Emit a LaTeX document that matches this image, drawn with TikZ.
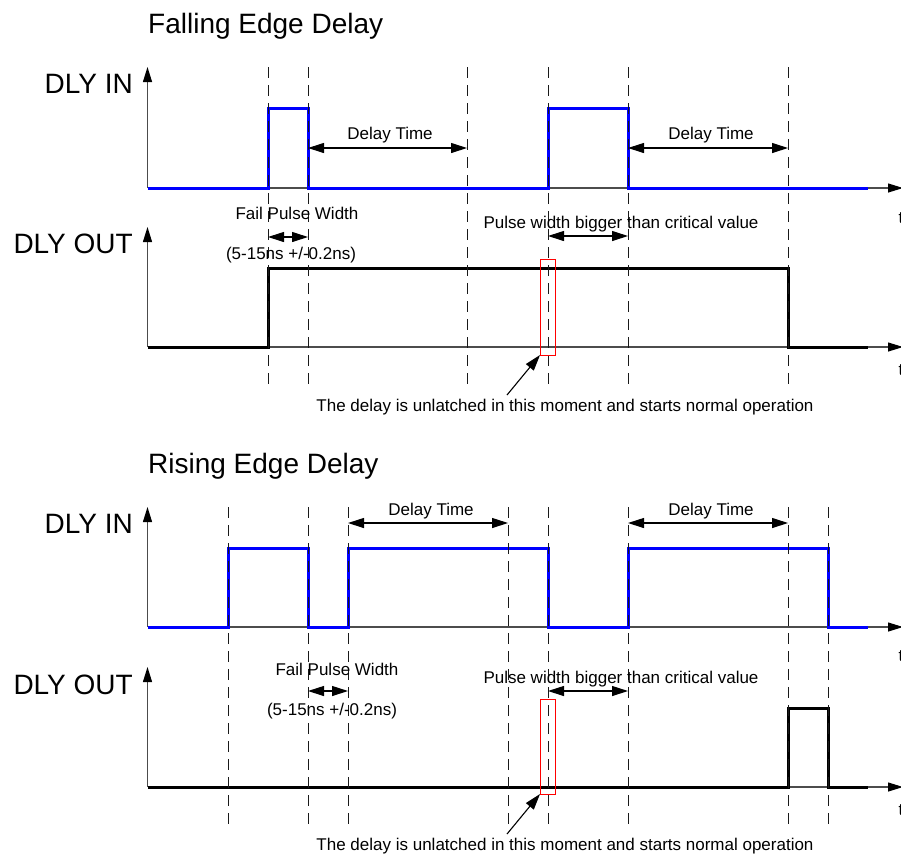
\documentclass[tikz,border=0pt]{standalone}
\usepackage{fontspec}
\setmainfont{Liberation Sans}
\usetikzlibrary{arrows.meta}
\definecolor{sigblue}{RGB}{0,0,255}
\begin{document}
\begin{tikzpicture}[x=1pt,y=-1pt,
  axis/.style={draw=black!70, line width=1.1pt, -{Triangle[length=15pt,width=9pt,black]}},
  gridline/.style={draw=black!90, line width=1.1pt, dash pattern=on 11pt off 7pt},
  sigin/.style={draw=sigblue, line width=3pt},
  sigout/.style={draw=black, line width=3pt},
  dim/.style={draw=black, line width=1.1pt, {Triangle[length=16pt,width=10pt]}-{Triangle[length=16pt,width=10pt]}},
  lbl/.style={font=\fontsize{17}{20}\selectfont, inner sep=0pt},
  big/.style={font=\fontsize{28}{32}\selectfont, inner sep=0pt},
  redbox/.style={draw=red, line width=1.3pt},
  note/.style={draw=black, line width=1.1pt, -{Triangle[length=16pt,width=10pt]}}
]
\useasboundingbox (0,0) rectangle (901,857);

% ================= Falling Edge Delay =================
\node[big, anchor=base west] (title1) at (148,33) {Falling Edge Delay};
\node[big, anchor=base east] (in1) at (133,93) {DLY IN};
\node[big, anchor=base east] (out1) at (133,253) {DLY OUT};

\coordinate (oi1) at (147.5,188);
\coordinate (yi1) at (147.5,67);
\coordinate (xi1) at (903,188);
\coordinate (oo1) at (147.5,347);
\coordinate (yo1) at (147.5,227);
\coordinate (xo1) at (903,347);
\draw[axis] (oi1) -- (yi1);
\draw[axis] (oi1) -- (xi1);
\draw[axis] (oo1) -- (yo1);
\draw[axis] (oo1) -- (xo1);

\draw[sigin] (oi1) -- (268,188) -- (268,108) -- (308,108) -- (308,188) -- (548,188)
  -- (548,108) -- (628,108) -- (628,188) -- (868,188);
\draw[sigout] (oo1) -- (268,347) -- (268,268) -- (788,268) -- (788,347) -- (868,347);

\foreach \x in {268,308,467,548,628,788}
  \draw[gridline] (\x+0.5,67) -- (\x+0.5,387);

\node[lbl, anchor=base] (dt1a) at (390,139) {Delay Time};
\node[lbl, anchor=base] (dt1b) at (711,139) {Delay Time};
\coordinate (d1a) at (308,148); \coordinate (d1b) at (467,148);
\coordinate (d1c) at (628,148); \coordinate (d1d) at (788,148);
\draw[dim] (d1a) -- (d1b);
\draw[dim] (d1c) -- (d1d);

\node[lbl, anchor=base] (fp1) at (297,219) {Fail Pulse Width};
\node[lbl, anchor=base] (fr1) at (291,259) {(5-15ns +/-0.2ns)};
\coordinate (f1a) at (268,237); \coordinate (f1b) at (308,237);
\draw[dim] (f1a) -- (f1b);

\node[lbl, anchor=base] (pw1) at (621,228) {Pulse width bigger than critical value};
\coordinate (p1a) at (548,236); \coordinate (p1b) at (628,236);
\draw[dim] (p1a) -- (p1b);

\coordinate (r1a) at (540.5,259.5); \coordinate (r1b) at (555.5,355.5);
\coordinate (n1s) at (507,395); \coordinate (n1e) at (540,355);
\draw[note] (n1s) -- (n1e);
\node[lbl, anchor=base] (nt1) at (565,411) {The delay is unlatched in this moment and starts normal operation};

\node[lbl, anchor=base west] (ti1) at (898.5,223) {t};
\node[lbl, anchor=base west] (to1) at (898.5,375) {t};

% ================= Rising Edge Delay =================
\node[big, anchor=base west] (title2) at (148,473) {Rising Edge Delay};
\node[big, anchor=base east] (in2) at (133,533) {DLY IN};
\node[big, anchor=base east] (out2) at (133,694) {DLY OUT};

\coordinate (oi2) at (147.5,627);
\coordinate (yi2) at (147.5,507);
\coordinate (xi2) at (903,627);
\coordinate (oo2) at (147.5,787);
\coordinate (yo2) at (147.5,667);
\coordinate (xo2) at (903,787);
\draw[axis] (oi2) -- (yi2);
\draw[axis] (oi2) -- (xi2);
\draw[axis] (oo2) -- (yo2);
\draw[axis] (oo2) -- (xo2);

\draw[sigin] (oi2) -- (228,627) -- (228,548) -- (308,548) -- (308,627) -- (348,627)
  -- (348,548) -- (548,548) -- (548,627) -- (628,627) -- (628,548) -- (828,548)
  -- (828,627) -- (868,627);
\draw[sigout] (oo2) -- (788,787) -- (788,708) -- (828,708) -- (828,787) -- (868,787);

\foreach \x in {228,308,348,508,548,628,788,828}
  \draw[gridline] (\x+0.5,507) -- (\x+0.5,827);

\node[lbl, anchor=base] (dt2a) at (431,515) {Delay Time};
\node[lbl, anchor=base] (dt2b) at (711,515) {Delay Time};
\coordinate (d2a) at (348,523); \coordinate (d2b) at (508,523);
\coordinate (d2c) at (628,523); \coordinate (d2d) at (788,523);
\draw[dim] (d2a) -- (d2b);
\draw[dim] (d2c) -- (d2d);

\node[lbl, anchor=base] (fp2) at (337,675) {Fail Pulse Width};
\node[lbl, anchor=base] (fr2) at (332,715) {(5-15ns +/-0.2ns)};
\coordinate (f2a) at (308,691); \coordinate (f2b) at (348,691);
\draw[dim] (f2a) -- (f2b);

\node[lbl, anchor=base] (pw2) at (621,683) {Pulse width bigger than critical value};
\coordinate (p2a) at (548,691); \coordinate (p2b) at (628,691);
\draw[dim] (p2a) -- (p2b);

\coordinate (r2a) at (540.5,699.5); \coordinate (r2b) at (555.5,794.5);
\coordinate (n2s) at (507,834); \coordinate (n2e) at (540,794);
\draw[note] (n2s) -- (n2e);
\node[lbl, anchor=base] (nt2) at (565,850) {The delay is unlatched in this moment and starts normal operation};

\node[lbl, anchor=base west] (ti2) at (898.5,661) {t};
\node[lbl, anchor=base west] (to2) at (898.5,815) {t};

% red markers on top
\draw[redbox] (r1a) rectangle (r1b);
\draw[redbox] (r2a) rectangle (r2b);
\end{tikzpicture}
\end{document}
